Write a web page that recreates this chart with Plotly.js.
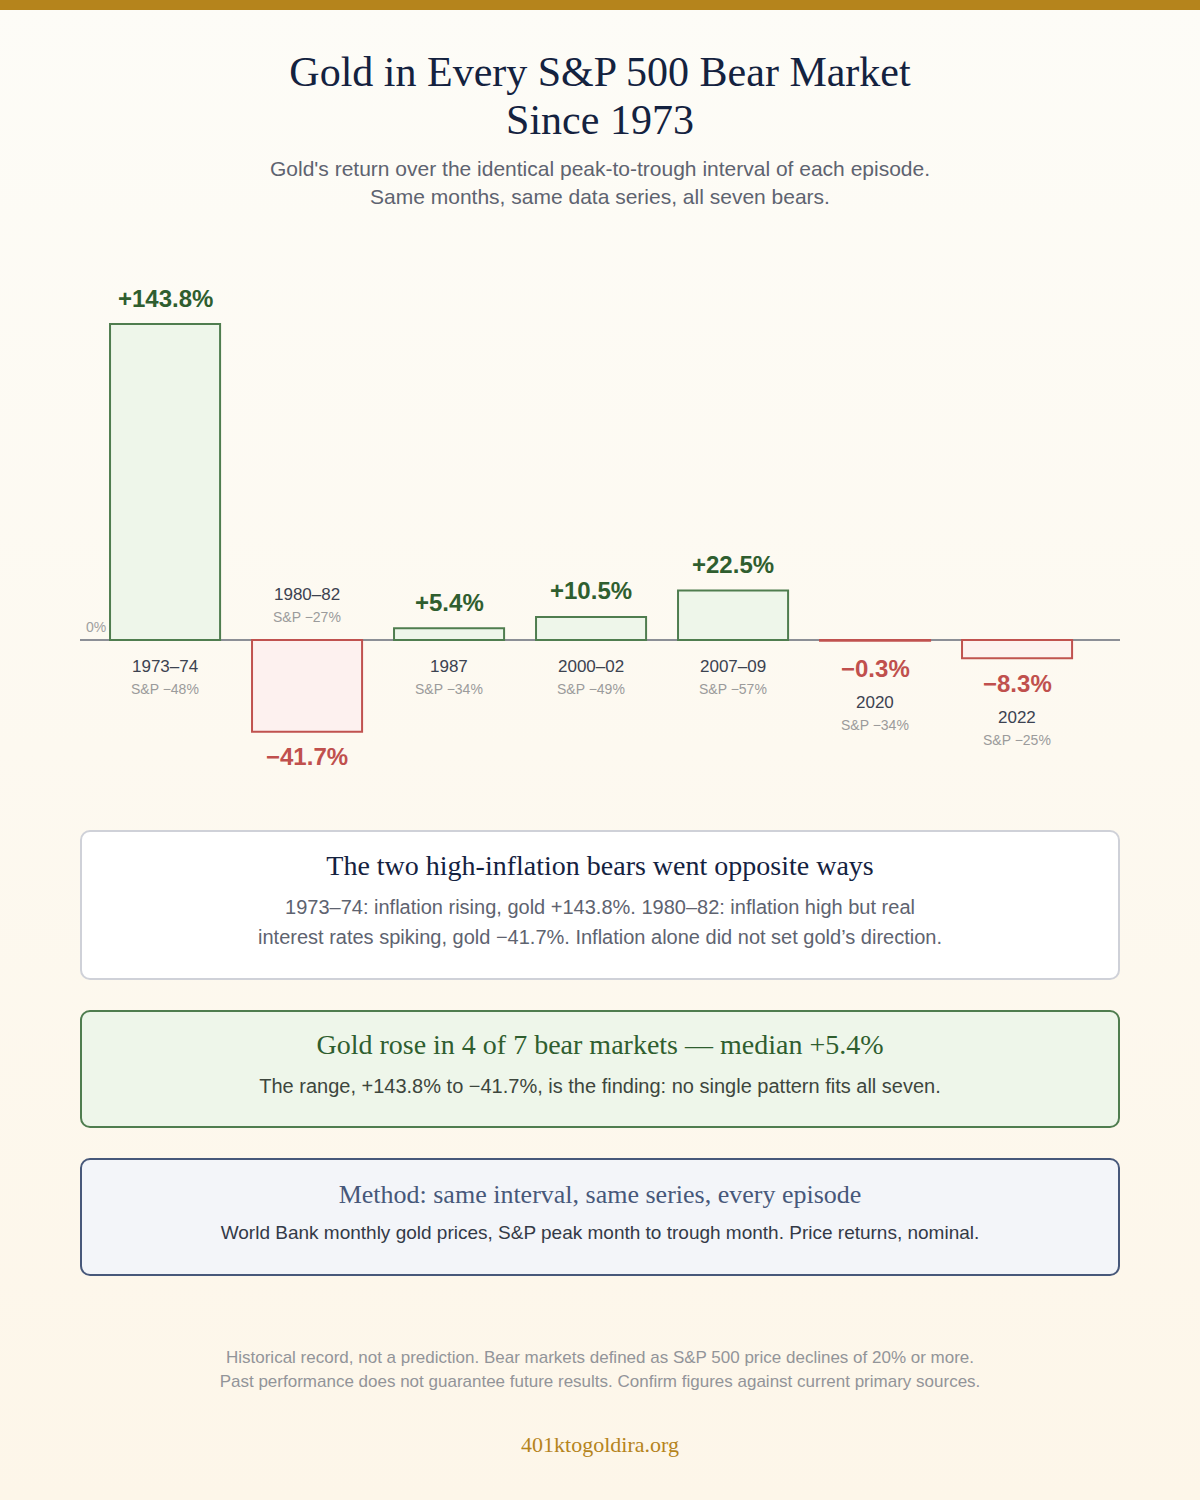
<!DOCTYPE html>
<html>
<head>
<meta charset="utf-8">
<script src="https://cdn.plot.ly/plotly-3.0.1.min.js"></script>
<style>
  html, body { margin: 0; padding: 0; }
  body {
    width: 1200px; height: 1500px; position: relative; overflow: hidden;
    background: linear-gradient(180deg, #fdfcf7 0%, #fdf6e9 100%);
    font-family: "Liberation Sans", Arial, sans-serif;
  }
  .topbar { position: absolute; left: 0; top: 0; width: 1200px; height: 10px; background: #b5841c; }
  .t { position: absolute; left: 0; width: 1200px; text-align: center; white-space: nowrap; }
  .serif { font-family: "Liberation Serif", "Times New Roman", serif; }
  .box { position: absolute; left: 80px; width: 1040px; box-sizing: border-box; border-radius: 10px; }
  #chart { position: absolute; left: 0; top: 230px; width: 1200px; height: 600px; }
</style>
</head>
<body>
<div class="topbar"></div>

<div class="t serif" style="top:48px; font-size:42px; line-height:48px; color:#14223f;">Gold in Every S&amp;P 500 Bear Market<br>Since 1973</div>
<div class="t" style="top:155px; font-size:21px; line-height:28px; color:#5e6370;">Gold's return over the identical peak-to-trough interval of each episode.<br>Same months, same data series, all seven bears.</div>

<div id="chart"></div>

<div class="box" style="top:830px; height:150px; background:#ffffff; border:2px solid #cfd1d8;"></div>
<div class="t serif" style="top:849px; font-size:28px; line-height:34px; color:#14223f;">The two high-inflation bears went opposite ways</div>
<div class="t" style="top:892px; font-size:20px; line-height:30px; color:#5e6370;">1973–74: inflation rising, gold +143.8%. 1980–82: inflation high but real<br>interest rates spiking, gold −41.7%. Inflation alone did not set gold’s direction.</div>

<div class="box" style="top:1010px; height:118px; background:#eef6ea; border:2px solid #4f7d4f;"></div>
<div class="t serif" style="top:1028px; font-size:28px; line-height:34px; color:#2f5e2f;">Gold rose in 4 of 7 bear markets — median +5.4%</div>
<div class="t" style="top:1071px; font-size:20px; line-height:30px; color:#3d463d;">The range, +143.8% to −41.7%, is the finding: no single pattern fits all seven.</div>

<div class="box" style="top:1158px; height:118px; background:#f3f5f9; border:2px solid #47587a;"></div>
<div class="t serif" style="top:1178px; font-size:26px; line-height:34px; color:#47587a;">Method: same interval, same series, every episode</div>
<div class="t" style="top:1218px; font-size:19px; line-height:30px; color:#333a47;">World Bank monthly gold prices, S&amp;P peak month to trough month. Price returns, nominal.</div>

<div class="t" style="top:1346px; font-size:17px; line-height:24px; color:#929499;">Historical record, not a prediction. Bear markets defined as S&amp;P 500 price declines of 20% or more.<br>Past performance does not guarantee future results. Confirm figures against current primary sources.</div>
<div class="t serif" style="top:1431px; font-size:22px; line-height:28px; color:#b5841c;">401ktogoldira.org</div>

<script>
const episodes = ["1973–74", "1980–82", "1987", "2000–02", "2007–09", "2020", "2022"];
const goldReturns = [143.8, -41.7, 5.4, 10.5, 22.5, -0.3, -8.3];
const spReturns = [-48, -27, -34, -49, -57, -34, -25];

const GREEN = "#2f5e2f", GREEN_LINE = "#4f7d4f", GREEN_FILL = "#eef6ea";
const RED = "#c0504d", RED_LINE = "#c0524f", RED_FILL = "#fdf1ef";
const MINUS = "\u2212";
const SANS = "Liberation Sans, Arial, sans-serif";

const xs = episodes.map((_, i) => i);
const fmtPct = v => (v >= 0 ? "+" : MINUS) + Math.abs(v).toFixed(1) + "%";
const fmtSp = v => "S&P " + (v >= 0 ? "+" : MINUS) + Math.abs(v) + "%";

const trace = {
  type: "bar",
  x: xs,
  y: goldReturns,
  width: 0.775,
  marker: {
    color: goldReturns.map(v => v >= 0 ? GREEN_FILL : RED_FILL),
    line: { color: goldReturns.map(v => v >= 0 ? GREEN_LINE : RED_LINE), width: 2 }
  },
  hoverinfo: "skip"
};

const pxPerUnit = 316 / 143.8;
const annotations = [];
goldReturns.forEach((v, i) => {
  const pos = v >= 0;
  if (pos) {
    annotations.push({
      x: i, y: v, xref: "x", yref: "y", text: "<b>" + fmtPct(v) + "</b>",
      showarrow: false, yanchor: "middle", yshift: 26,
      font: { family: SANS, size: 24, color: GREEN }
    });
  } else {
    const base = Math.max(Math.abs(v) * pxPerUnit, 3);
    annotations.push({
      x: i, y: 0, xref: "x", yref: "y", text: "<b>" + fmtPct(v) + "</b>",
      showarrow: false, yanchor: "middle", yshift: -(base + 25),
      font: { family: SANS, size: 24, color: RED }
    });
  }
  let catShift, spShift;
  if (pos) { catShift = -26; spShift = -49; }
  else if (Math.abs(v) * pxPerUnit > 40) { catShift = 46; spShift = 23; }
  else {
    const base = Math.max(Math.abs(v) * pxPerUnit, 3);
    catShift = -(base + 59); spShift = -(base + 82);
  }
  annotations.push({
    x: i, y: 0, xref: "x", yref: "y", text: episodes[i],
    showarrow: false, yanchor: "middle", yshift: catShift,
    font: { family: SANS, size: 17, color: "#3c4250" }
  });
  annotations.push({
    x: i, y: 0, xref: "x", yref: "y", text: fmtSp(spReturns[i]),
    showarrow: false, yanchor: "middle", yshift: spShift,
    font: { family: SANS, size: 14, color: "#9b9b9b" }
  });
});
annotations.push({
  x: 0, y: 0, xref: "paper", yref: "y", text: "0%", showarrow: false,
  xanchor: "left", yanchor: "middle", xshift: 4, yshift: 13,
  font: { family: SANS, size: 14, color: "#a0a0a0" }
});

const layout = {
  width: 1200, height: 600,
  margin: { l: 80, r: 80, t: 20, b: 30, pad: 0 },
  paper_bgcolor: "rgba(0,0,0,0)",
  plot_bgcolor: "rgba(0,0,0,0)",
  showlegend: false,
  xaxis: { range: [-0.599, 6.725], showgrid: false, zeroline: false, showticklabels: false, ticks: "", showline: false, fixedrange: true },
  yaxis: { range: [-(160 / pxPerUnit), 390 / pxPerUnit], showgrid: false, zeroline: true, zerolinecolor: "#8c8f96", zerolinewidth: 2, showticklabels: false, ticks: "", showline: false, fixedrange: true },
  annotations: annotations,
  bargap: 0
};

Plotly.newPlot("chart", [trace], layout, { displayModeBar: false, staticPlot: true });
</script>
</body>
</html>
